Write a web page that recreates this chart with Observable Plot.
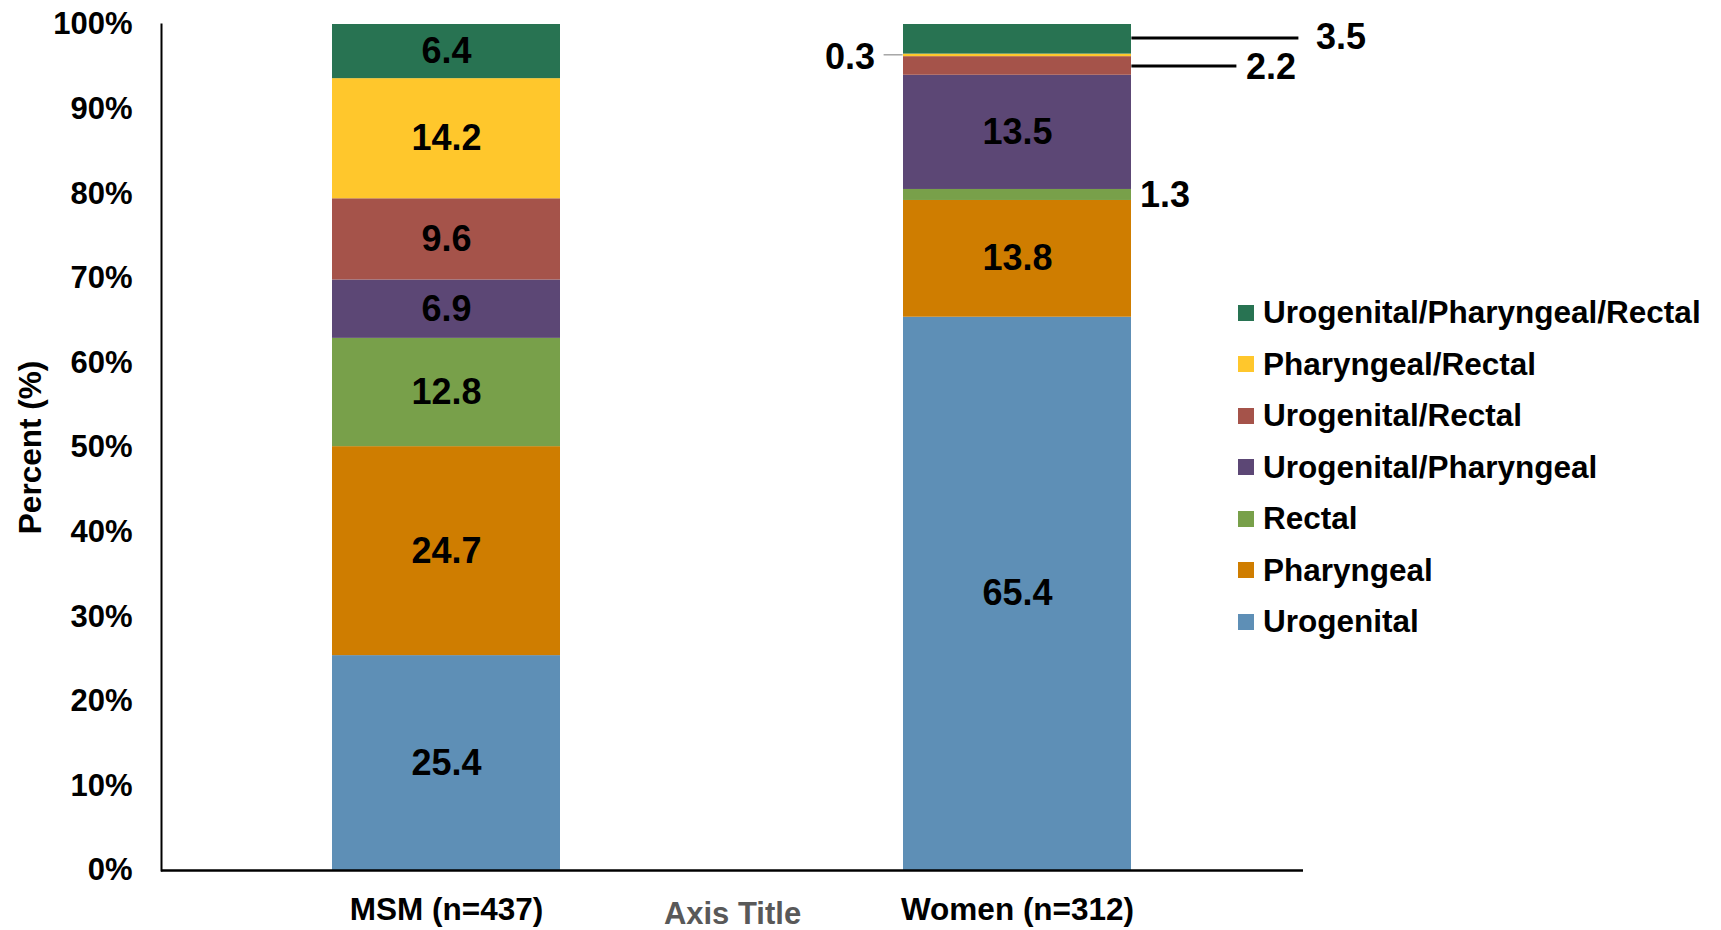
<!DOCTYPE html>
<html><head><meta charset="utf-8">
<script src="https://cdn.jsdelivr.net/npm/d3@7"></script>
<script src="https://cdn.jsdelivr.net/npm/@observablehq/plot@0.6"></script>
<style>
body{margin:0;background:#fff;}
#wrap{position:relative;width:1721px;height:930px;overflow:hidden;font-family:'Liberation Sans',Arial,sans-serif;}
#legend{position:absolute;left:1238px;top:287px;}
.row{display:flex;align-items:center;height:51.5px;font-size:31.5px;font-weight:bold;color:#000;white-space:nowrap;}
.sw{width:16px;height:16px;margin-right:9px;flex:none;}
</style></head>
<body><div id="wrap"><div id="chart"></div><div id="legend"></div></div>
<script>
const groups = ["MSM (n=437)", "Women (n=312)"];
const categories = ["Urogenital", "Pharyngeal", "Rectal", "Urogenital/Pharyngeal", "Urogenital/Rectal", "Pharyngeal/Rectal", "Urogenital/Pharyngeal/Rectal"];
const msmValues = [25.4, 24.7, 12.8, 6.9, 9.6, 14.2, 6.4];
const womenValues = [65.4, 13.8, 1.3, 13.5, 2.2, 0.3, 3.5];
const colors = ["#5e8fb6", "#cf7d00", "#78a04a", "#5c4775", "#a5534a", "#ffc72c", "#287352"];
const yTicks = [0, 10, 20, 30, 40, 50, 60, 70, 80, 90, 100];
const xTitle = "Axis Title";
const yTitle = "Percent (%)";

const seriesValues = [msmValues, womenValues];
const data = groups.flatMap((g, i) => categories.map((c, j) => ({group: g, cat: c, value: seriesValues[i][j]})));

const stackBase = {x: "group", y: "value", z: "cat", order: categories};
const women = groups[1];

function outsideLabel(cat, dx, dy) {
  return Plot.text(data, Plot.stackY({...stackBase,
    text: d => (d.group === women && d.cat === cat) ? d.value.toFixed(1) : null,
    dx, dy, fontSize: 36, fontWeight: "bold", fill: "#000"}));
}
function leader(cat, dx, dy, insetLeft, insetRight, stroke, strokeWidth) {
  return Plot.tickY(data, Plot.stackY({...stackBase,
    strokeOpacity: d => (d.group === women && d.cat === cat) ? 1 : 0,
    dx, dy, insetLeft, insetRight, stroke, strokeWidth}));
}

const chart = Plot.plot({
  width: 1721,
  height: 930,
  marginLeft: 161,
  marginRight: 418,
  marginTop: 24,
  marginBottom: 60,
  style: {fontFamily: "'Liberation Sans', Arial, sans-serif", fontSize: "31px", fontWeight: "bold", color: "#000", background: "#fff"},
  x: {domain: groups, paddingInner: 0.6, paddingOuter: 0.3, label: null},
  y: {domain: [0, 100], label: null},
  opacity: {domain: [0, 1], range: [0, 1]},
  color: {domain: categories, range: colors},
  marks: [
    Plot.barY(data, Plot.stackY({...stackBase, fill: "cat"})),
    Plot.axisY({ticks: yTicks, tickFormat: d => d + "%", tickSize: 0, tickPadding: 29, label: null, fontSize: 31, fontWeight: "bold"}),
    Plot.axisX({tickSize: 0, tickPadding: 27, label: null, fontSize: 31.5, fontWeight: "bold"}),
    Plot.frame({anchor: "left", stroke: "#000", strokeWidth: 2}),
    Plot.ruleY([0], {stroke: "#000", strokeWidth: 2.5}),
    Plot.text(data, Plot.stackY({...stackBase,
      text: d => d.value >= 5 ? d.value.toFixed(1) : null,
      fontSize: 36, fontWeight: "bold", fill: "#000"})),
    leader("Urogenital/Pharyngeal/Rectal", 228.4, -1.3, 0, 61, "#000", 3),
    leader("Urogenital/Rectal", 228.4, 0, 0, 123, "#000", 3),
    leader("Pharyngeal/Rectal", -228.4, -0.6, 209, 0, "#a6a6a6", 1.5),
    outsideLabel("Urogenital/Pharyngeal/Rectal", 323.5, -1.8),
    outsideLabel("Urogenital/Rectal", 253.5, 1.5),
    outsideLabel("Pharyngeal/Rectal", -167.5, 1.6),
    outsideLabel("Rectal", 147.5, 0),
    Plot.text([yTitle], {frameAnchor: "left", textAnchor: "middle", rotate: -90, dx: -131, fontSize: 31.5, fontWeight: "bold", fill: "#000"}),
    Plot.text([xTitle], {frameAnchor: "bottom", lineAnchor: "top", dy: 31, fontSize: 31, fontWeight: "bold", fill: "#595959"})
  ]
});
document.getElementById("chart").appendChild(chart);

const legend = document.getElementById("legend");
categories.map((c, i) => ({c, col: colors[i]})).reverse().forEach(({c, col}) => {
  const row = document.createElement("div");
  row.className = "row";
  const sw = document.createElement("span");
  sw.className = "sw";
  sw.style.background = col;
  const t = document.createElement("span");
  t.textContent = c;
  row.appendChild(sw);
  row.appendChild(t);
  legend.appendChild(row);
});
</script>
</body></html>
